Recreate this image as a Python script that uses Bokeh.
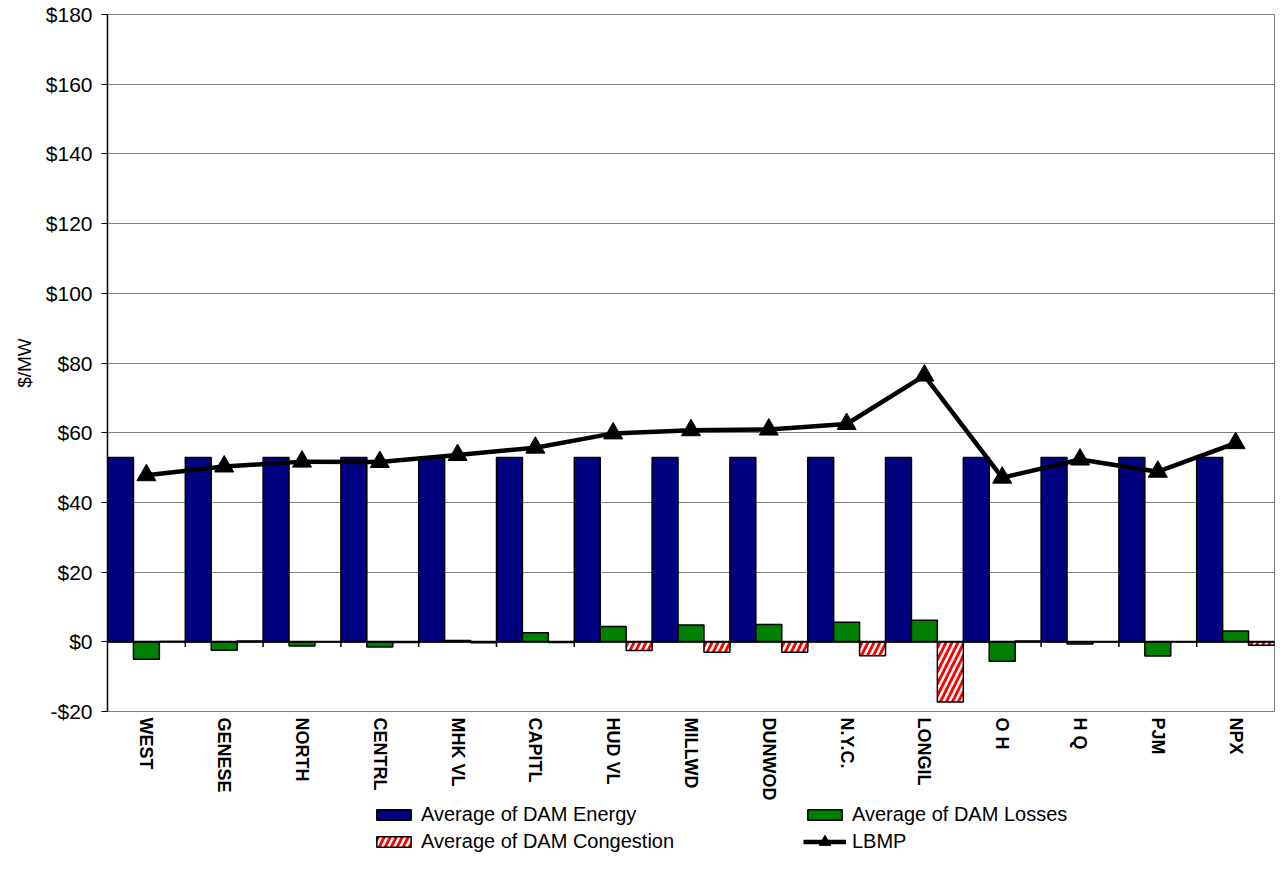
from bokeh.plotting import figure
from bokeh.models import FixedTicker, Span, Legend, LegendItem, Range1d
from bokeh.layouts import column
from bokeh.embed import file_html
from bokeh.resources import INLINE

zones = ["WEST", "GENESE", "NORTH", "CENTRL", "MHK VL", "CAPITL", "HUD VL",
         "MILLWD", "DUNWOD", "N.Y.C.", "LONGIL", "O H", "H Q", "PJM", "NPX"]
dam_energy = [52.9, 52.9, 52.9, 52.9, 52.9, 52.9, 52.9, 52.9,
              52.9, 52.9, 52.9, 52.9, 52.9, 52.9, 52.9]
dam_losses = [-5.0, -2.4, -1.2, -1.5, 0.4, 2.6, 4.4, 4.8,
              5.0, 5.6, 6.2, -5.6, -0.6, -4.1, 3.1]
dam_congestion = [0.1, 0.2, 0.0, -0.2, -0.3, -0.2, -2.5, -3.0,
                  -3.0, -4.0, -17.3, 0.2, 0.0, 0.0, -1.0]
lbmp = [47.8, 50.3, 51.7, 51.6, 53.6, 55.7, 59.8, 60.7,
        60.9, 62.5, 76.4, 47.1, 52.3, 48.8, 57.0]
y_ticks = [-20, 0, 20, 40, 60, 80, 100, 120, 140, 160, 180]

FONT = "Liberation Sans"
n = len(zones)
centers = [i + 0.5 for i in range(n)]
boundaries = [float(i) for i in range(1, n)]

energy_style = dict(fill_color="#000080", line_color="black", line_width=1.5)
losses_style = dict(fill_color="#008000", line_color="black", line_width=1.5)
cong_style = dict(fill_color="#FF0000", line_color="black", line_width=1.5,
                  hatch_pattern="/", hatch_color="white", hatch_scale=12, hatch_weight=2.5)

p = figure(width=1275, height=803, output_backend="svg", toolbar_location=None,
           x_range=Range1d(0, n), y_range=Range1d(-20, 180),
           min_border_left=107, min_border_right=1, min_border_top=14,
           min_border_bottom=82)
p.outline_line_color = "#808080"
p.outline_line_width = 1

# bars, three per zone, side by side
bar_w = 1 / 3
p.vbar(x=[i + bar_w / 2 for i in range(n)], top=dam_energy, bottom=0, width=bar_w, **energy_style)
p.vbar(x=[i + 1.5 * bar_w for i in range(n)], top=dam_losses, bottom=0, width=bar_w, **losses_style)
p.vbar(x=[i + 2.5 * bar_w for i in range(n)], top=dam_congestion, bottom=0, width=bar_w, **cong_style)

# zero line with category ticks
p.add_layout(Span(location=0, dimension="width", line_color="black", line_width=2))
p.segment(x0=boundaries, y0=[0] * len(boundaries), x1=boundaries,
          y1=[-1.5] * len(boundaries), line_color="black", line_width=1.5)

# LBMP line
p.line(centers, lbmp, line_width=4.5, color="black")
p.scatter(centers, lbmp, marker="triangle", size=19, color="black")

# y axis
p.yaxis.ticker = FixedTicker(ticks=y_ticks, minor_ticks=[])
p.yaxis.major_label_overrides = {t: ("-$%d" % -t if t < 0 else "$%d" % t) for t in y_ticks}
p.yaxis.major_label_text_font = FONT
p.yaxis.major_label_text_font_size = "21px"
p.yaxis.major_label_text_color = "black"
p.yaxis.major_label_standoff = 9
p.yaxis.major_tick_out = 6
p.yaxis.major_tick_in = 0
p.yaxis.major_tick_line_color = "black"
p.yaxis.axis_line_color = "black"
p.yaxis.axis_line_width = 1.5
p.yaxis.axis_label = "$/MW"
p.yaxis.axis_label_text_font = FONT
p.yaxis.axis_label_text_font_size = "19px"
p.yaxis.axis_label_text_font_style = "normal"
p.yaxis.axis_label_text_color = "black"
p.yaxis.axis_label_standoff = 8

p.ygrid.ticker = FixedTicker(ticks=y_ticks)
p.ygrid.grid_line_color = "#808080"
p.ygrid.grid_line_width = 1
p.xgrid.visible = False

# x axis, zone names at the bottom
p.xaxis.ticker = FixedTicker(ticks=centers, minor_ticks=[])
p.xaxis.major_label_overrides = {c: z for c, z in zip(centers, zones)}
p.xaxis.major_label_orientation = "vertical"
p.xaxis.major_label_text_font = FONT
p.xaxis.major_label_text_font_size = "18px"
p.xaxis.major_label_text_font_style = "bold"
p.xaxis.major_label_text_color = "black"
p.xaxis.major_label_standoff = 0
p.xaxis.major_tick_line_color = None
p.xaxis.axis_line_color = "#808080"

# legend strip below the chart (sample glyphs only, nothing drawn in it)
nan = float("nan")
leg = figure(width=1275, height=50, output_backend="svg", toolbar_location=None,
             x_axis_location=None, y_axis_location=None,
             x_range=Range1d(0, n), y_range=Range1d(0, 1),
             min_border=0, outline_line_color=None)
leg.grid.visible = False
k_energy = leg.vbar(x=[nan], top=[nan], width=bar_w, **energy_style)
k_losses = leg.vbar(x=[nan], top=[nan], width=bar_w, **losses_style)
k_cong = leg.vbar(x=[nan], top=[nan], width=bar_w, **cong_style)
k_line = leg.line(x=[nan], y=[nan], line_width=4.5, color="black")
k_pts = leg.scatter(x=[nan], y=[nan], marker="triangle", color="black")


def make_legend(items, x, y, glyph_h=13):
    lg = Legend(items=items, location=(x, y))
    lg.border_line_color = None
    lg.background_fill_alpha = 0
    lg.padding = 0
    lg.margin = 0
    lg.glyph_width = 43
    lg.glyph_height = glyph_h
    lg.label_standoff = 6
    lg.label_height = 20
    lg.spacing = 4
    lg.label_text_font = FONT
    lg.label_text_font_size = "20px"
    lg.label_text_color = "black"
    return lg


leg.add_layout(make_legend([
    LegendItem(label="Average of DAM Energy", renderers=[k_energy]),
    LegendItem(label="Average of DAM Congestion", renderers=[k_cong]),
], 265, 0))
leg.add_layout(make_legend([
    LegendItem(label="Average of DAM Losses", renderers=[k_losses]),
], 696, 27))
leg.add_layout(make_legend([
    LegendItem(label="LBMP", renderers=[k_line, k_pts]),
], 696, -3, glyph_h=29))

page = column(p, leg, spacing=0)
open("out.html", "w").write(file_html(page, INLINE))
